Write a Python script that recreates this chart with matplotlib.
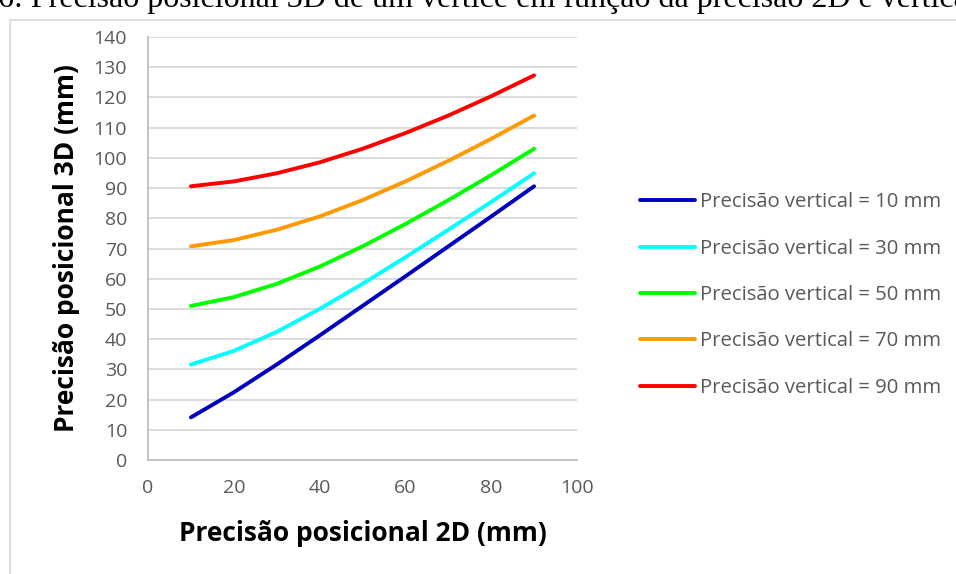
import matplotlib.pyplot as plt
from matplotlib.patches import Rectangle

# data
precisao_2d = [10, 20, 30, 40, 50, 60, 70, 80, 90]

v10 = [14.1, 22.4, 31.6, 41.2, 51.0, 60.8, 70.7, 80.6, 90.6]
v30 = [31.6, 36.1, 42.4, 50.0, 58.3, 67.1, 76.2, 85.4, 94.9]
v50 = [51.0, 53.9, 58.3, 64.0, 70.7, 78.1, 86.0, 94.3, 103.0]
v70 = [70.7, 72.8, 76.2, 80.6, 86.0, 92.2, 99.0, 106.3, 114.0]
v90 = [90.6, 92.2, 94.9, 98.5, 103.0, 108.2, 114.0, 120.4, 127.3]

series = [v10, v30, v50, v70, v90]
labels = [
    "Precisão vertical = 10 mm",
    "Precisão vertical = 30 mm",
    "Precisão vertical = 50 mm",
    "Precisão vertical = 70 mm",
    "Precisão vertical = 90 mm",
]
colors = ["#0000c0", "#00ffff", "#00ff00", "#ff9900", "#ff0000"]

caption = "6: Precisão posicional 3D de um vértice em função da precisão 2D e vertical"

plt.rcParams["font.family"] = ["Open Sans", "DejaVu Sans"]

fig = plt.figure(figsize=(9.56, 5.74), dpi=100)

# chart border (Excel style)
fig.patches.append(Rectangle((10 / 956, -0.05), 1.0, 1 - 20 / 574 + 0.05,
                             transform=fig.transFigure, fill=False,
                             edgecolor="#d9d9d9", linewidth=1.2))

# cut-off caption at the top of the page
fig.text(-2 / 956, 1 - 7 / 574, caption, family="Liberation Serif",
         fontsize=23, va="baseline", ha="left", color="black")

ax = fig.add_axes([148 / 956, 1 - 460 / 574, 429 / 956, 423 / 574])

for vals, lab, col in zip(series, labels, colors):
    ax.plot(precisao_2d, vals, color=col, linewidth=2.8, label=lab,
            solid_capstyle="round")

ax.set_xlim(0, 100)
ax.set_ylim(0, 140)
ax.set_xticks(range(0, 101, 20))
ax.set_yticks(range(0, 141, 10))
ax.grid(axis="y", color="#d9d9d9", linewidth=1.3)
ax.set_axisbelow(True)
for s in ["top", "right"]:
    ax.spines[s].set_visible(False)
for s in ["left", "bottom"]:
    ax.spines[s].set_color("#bfbfbf")
    ax.spines[s].set_linewidth(1.3)
ax.tick_params(length=0, labelsize=14, labelcolor="#595959")
ax.tick_params(axis="y", pad=15)
ax.tick_params(axis="x", pad=14)

ax.set_xlabel("Precisão posicional 2D (mm)", fontsize=19, fontweight="bold",
              labelpad=16)
ax.set_ylabel("Precisão posicional 3D (mm)", fontsize=19, fontweight="bold",
              labelpad=10)

leg = fig.legend(loc="center left", bbox_to_anchor=(630 / 956, 1 - 295 / 574),
                 frameon=False, fontsize=14.6, handlelength=2.7,
                 handletextpad=0.25, labelspacing=1.3, borderpad=0)
for t in leg.get_texts():
    t.set_color("#595959")

fig.savefig("out.png", dpi=100)
